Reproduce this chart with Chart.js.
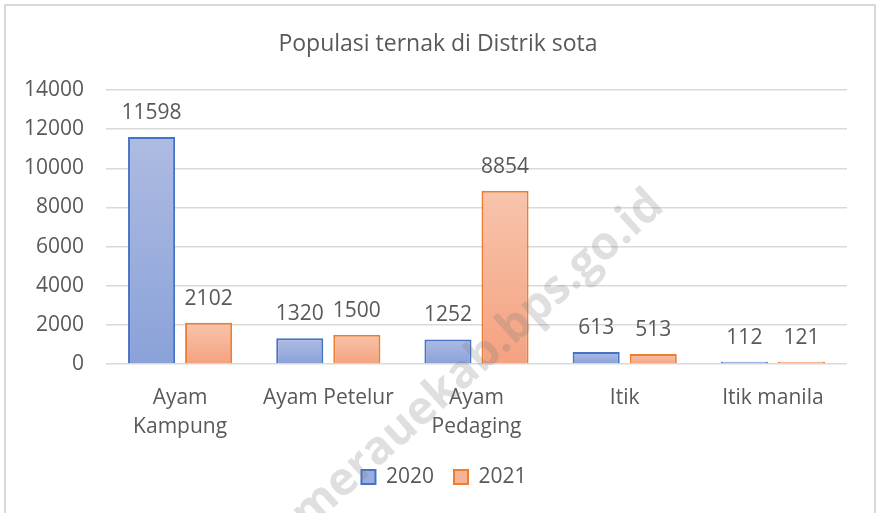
<!DOCTYPE html>
<html>
<head>
<meta charset="utf-8">
<script src="https://cdn.jsdelivr.net/npm/chart.js@4"></script>
<style>
  html, body { margin: 0; padding: 0; background: #fff; }
  #wrap { width: 876px; height: 513px; }
</style>
</head>
<body>
<div id="wrap"><canvas id="myChart" width="876" height="513"></canvas></div>
<script>
// データ
const categories = [['Ayam', 'Kampung'], 'Ayam Petelur', ['Ayam', 'Pedaging'], 'Itik', 'Itik manila'];
const seriesNames = ['2020', '2021'];
const values2020 = [11598, 1320, 1252, 613, 112];
const values2021 = [2102, 1500, 8854, 513, 121];
const yTicks = [0, 2000, 4000, 6000, 8000, 10000, 12000, 14000];

const FONT = "'Open Sans', 'Noto Sans', sans-serif";
const GREY = '#595959';

// 棒ごとのグラデーション
function barGradient(top, bottom) {
    return function (c) {
        const chart = c.chart;
        const y = chart.scales && chart.scales.y;
        if (!y || c.raw === undefined) return top;
        const y0 = y.getPixelForValue(c.raw);
        const y1 = y.getPixelForValue(0);
        if (!isFinite(y0) || !isFinite(y1) || y0 === y1) return top;
        const g = chart.ctx.createLinearGradient(0, y0, 0, y1);
        g.addColorStop(0, top);
        g.addColorStop(1, bottom);
        return g;
    };
}

// 枠線
const framePlugin = {
    id: 'frame',
    beforeDraw(chart) {
        const ctx = chart.ctx;
        ctx.save();
        ctx.fillStyle = '#fff';
        ctx.fillRect(0, 0, chart.width, chart.height);
        ctx.strokeStyle = '#d9d9d9';
        ctx.lineWidth = 2;
        ctx.beginPath();
        ctx.moveTo(5, chart.height);
        ctx.lineTo(5, 5);
        ctx.lineTo(875, 5);
        ctx.lineTo(875, chart.height);
        ctx.stroke();
        ctx.restore();
    }
};

// タイトルと凡例を少し右へ
const shiftBoxes = {
    id: 'shiftBoxes',
    afterLayout(chart) {
        if (chart.titleBlock) {
            chart.titleBlock.left += 14.5;
            chart.titleBlock.right += 14.5;
        }
        if (chart.legend) {
            chart.legend.left += 20.5;
            chart.legend.right += 20.5;
        }
    }
};

// 値ラベル
const valueLabels = {
    id: 'valueLabels',
    afterDatasetsDraw(chart) {
        const ctx = chart.ctx;
        ctx.save();
        ctx.font = '21px ' + FONT;
        ctx.fillStyle = GREY;
        ctx.textAlign = 'center';
        ctx.textBaseline = 'alphabetic';
        chart.data.datasets.forEach((ds, i) => {
            chart.getDatasetMeta(i).data.forEach((bar, j) => {
                ctx.fillText(String(ds.data[j]), bar.x, bar.y - 18);
            });
        });
        ctx.restore();
    }
};

// 透かし
const watermark = {
    id: 'watermark',
    afterDraw(chart) {
        const ctx = chart.ctx;
        ctx.save();
        ctx.translate(478, 360);
        ctx.rotate(-42 * Math.PI / 180);
        ctx.font = 'bold 46px ' + FONT;
        ctx.fillStyle = 'rgba(120,120,120,0.24)';
        ctx.textAlign = 'center';
        ctx.textBaseline = 'middle';
        ctx.fillText('merauekab.bps.go.id', 0, 0);
        ctx.restore();
    }
};

function drawChart() {
    const ctx = document.getElementById('myChart').getContext('2d');

    const data = {
        labels: categories,
        datasets: [{
            label: seriesNames[0],
            data: values2020,
            backgroundColor: barGradient('#aebbe2', '#8aa2d9'),
            borderColor: '#4472c4',
            borderWidth: 2
        }, {
            label: seriesNames[1],
            data: values2021,
            backgroundColor: barGradient('#f8c4ab', '#f4a280'),
            borderColor: '#ed7d31',
            borderWidth: 2
        }]
    };

    const config = {
        type: 'bar',
        data: data,
        options: {
            responsive: false,
            animation: false,
            categoryPercentage: 0.77,
            barPercentage: 0.825,
            layout: { padding: { left: 0, right: 29, top: 0, bottom: 15.5 } },
            plugins: {
                title: {
                    display: true,
                    text: 'Populasi ternak di Distrik sota',
                    color: GREY,
                    font: { family: FONT, size: 23, weight: 'normal', lineHeight: 1.2 },
                    padding: { top: 31, bottom: 31.4 }
                },
                legend: {
                    position: 'bottom',
                    labels: {
                        color: GREY,
                        font: { family: FONT, size: 21 },
                        boxWidth: 14,
                        boxHeight: 14,
                        padding: 20,
                        generateLabels() {
                            return [
                                { text: seriesNames[0], fillStyle: '#9aaedd', strokeStyle: '#4472c4', lineWidth: 2, datasetIndex: 0, fontColor: GREY },
                                { text: seriesNames[1], fillStyle: '#f6b394', strokeStyle: '#ed7d31', lineWidth: 2, datasetIndex: 1, fontColor: GREY }
                            ];
                        }
                    }
                },
                tooltip: { enabled: false }
            },
            scales: {
                x: {
                    grid: { display: false, drawTicks: false },
                    border: { display: false },
                    ticks: {
                        color: GREY,
                        font: { family: FONT, size: 21, lineHeight: 1.4 },
                        padding: 19,
                        maxRotation: 0,
                        autoSkip: false
                    },
                    afterFit(scale) { scale.height = 82.5; }
                },
                y: {
                    min: 0,
                    max: 14000,
                    afterBuildTicks(scale) { scale.ticks = yTicks.map(v => ({ value: v })); },
                    grid: { color: '#d9d9d9', lineWidth: 1.5, drawTicks: false },
                    border: { display: false },
                    ticks: {
                        color: GREY,
                        font: { family: FONT, size: 21 },
                        padding: 22,
                        callback: (v) => String(v)
                    },
                    afterFit(scale) { scale.width = 106; }
                }
            }
        },
        plugins: [framePlugin, shiftBoxes, valueLabels, watermark]
    };

    new Chart(ctx, config);
}

window.onload = drawChart;
</script>
</body>
</html>
